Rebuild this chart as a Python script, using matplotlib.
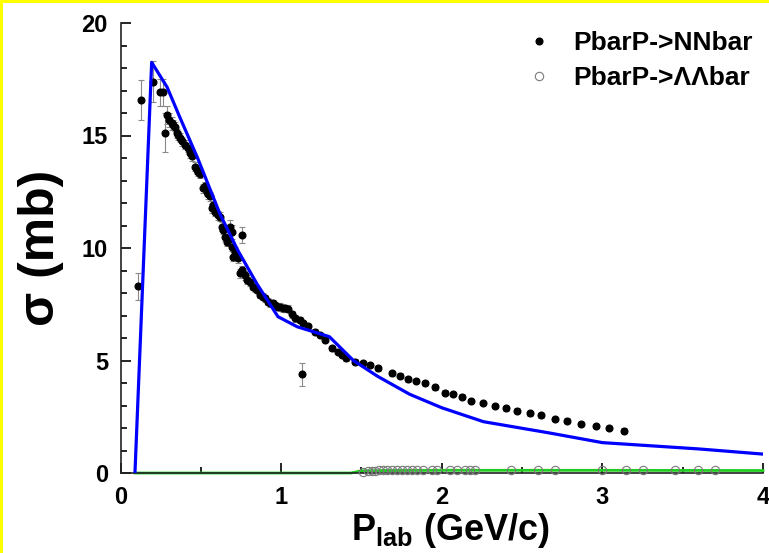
import numpy as np
import matplotlib
matplotlib.use('Agg')
import matplotlib.pyplot as plt
from matplotlib.patches import Rectangle
from matplotlib.ticker import MultipleLocator

plt.rcParams['font.family'] = ['Liberation Sans', 'DejaVu Sans']
plt.rcParams['font.weight'] = 'bold'
plt.rcParams['mathtext.fontset'] = 'custom'
plt.rcParams['mathtext.bf'] = 'Liberation Sans:bold'
plt.rcParams['mathtext.rm'] = 'Liberation Sans:bold'

# pbar p -> n nbar data (P_lab GeV/c, sigma mb, error)
nn_p = [0.110, 0.126, 0.204, 0.246, 0.266, 0.277, 0.287, 0.304, 0.319, 0.328,
        0.339, 0.350, 0.360, 0.370, 0.381, 0.401, 0.422, 0.433, 0.443, 0.464,
        0.474, 0.484, 0.495, 0.515, 0.525, 0.536, 0.546, 0.557, 0.567, 0.578,
        0.588, 0.604, 0.619, 0.630, 0.640, 0.650, 0.660, 0.671, 0.681, 0.692,
        0.692, 0.702, 0.713, 0.733, 0.744, 0.754, 0.754, 0.775, 0.790, 0.806,
        0.826, 0.839, 0.848, 0.868, 0.889, 0.899, 0.920, 0.930, 0.951, 0.961,
        0.982, 0.993, 1.013, 1.024, 1.044, 1.065, 1.086, 1.117, 1.128, 1.138,
        1.169, 1.210, 1.241, 1.272, 1.314, 1.355, 1.380, 1.407, 1.460, 1.510,
        1.553, 1.604, 1.690, 1.740, 1.790, 1.840, 1.895, 1.957, 2.019, 2.071,
        2.123, 2.185, 2.258, 2.330, 2.400, 2.470, 2.548, 2.621, 2.704, 2.777,
        2.870, 2.959, 3.042, 3.133]
nn_sig = [8.30, 16.58, 17.40, 16.92, 16.92, 15.12, 15.91, 15.69, 15.54, 15.47,
          15.39, 15.10, 15.02, 14.90, 14.75, 14.58, 14.45, 14.21, 14.08, 13.61,
          13.47, 13.40, 13.30, 12.65, 12.75, 12.50, 12.40, 12.30, 11.76, 11.90,
          11.61, 11.45, 11.39, 10.95, 10.80, 10.50, 10.28, 10.36, 10.95, 10.72,
          10.06, 9.61, 9.84, 9.54, 8.87, 9.02, 10.58, 8.80, 8.60, 8.50,
          8.28, 8.21, 8.13, 7.91, 7.84, 7.76, 7.61, 7.54, 7.54, 7.47,
          7.39, 7.39, 7.32, 7.32, 7.30, 7.05, 6.87, 6.80, 4.39, 6.65,
          6.53, 6.28, 6.13, 5.91, 5.54, 5.39, 5.25, 5.10, 4.95, 4.88,
          4.80, 4.65, 4.43, 4.33, 4.16, 4.08, 3.99, 3.81, 3.57, 3.51,
          3.39, 3.21, 3.12, 2.98, 2.87, 2.77, 2.65, 2.56, 2.39, 2.33,
          2.18, 2.09, 1.99, 1.88]
nn_err = [0.60, 0.87, 0.90, 0.60, 0.60, 0.87, 0.40, 0.30, 0.30, 0.20,
          0.20, 0.20, 0.20, 0.20, 0.20, 0.20, 0.20, 0.20, 0.20, 0.20,
          0.20, 0.20, 0.20, 0.20, 0.20, 0.20, 0.20, 0.20, 0.20, 0.20,
          0.20, 0.20, 0.20, 0.20, 0.20, 0.20, 0.20, 0.20, 0.30, 0.30,
          0.20, 0.20, 0.20, 0.20, 0.20, 0.20, 0.35, 0.20, 0.20, 0.20,
          0.15, 0.15, 0.15, 0.15, 0.15, 0.15, 0.15, 0.15, 0.15, 0.15,
          0.15, 0.15, 0.15, 0.15, 0.15, 0.15, 0.15, 0.15, 0.52, 0.10,
          0.10, 0.10, 0.10, 0.10, 0.10, 0.10, 0.10, 0.10, 0.10, 0.10,
          0.10, 0.10, 0.10, 0.10, 0.10, 0.10, 0.10, 0.10, 0.10, 0.10,
          0.10, 0.10, 0.10, 0.10, 0.10, 0.10, 0.10, 0.10, 0.10, 0.10,
          0.10, 0.10, 0.10, 0.10]

# pbar p -> lambda lambdabar data
ll_p = [1.511, 1.542, 1.563, 1.584, 1.610, 1.635, 1.660, 1.688, 1.719, 1.750,
        1.781, 1.812, 1.843, 1.884, 1.937, 1.968, 2.050, 2.092, 2.144, 2.175,
        2.206, 2.434, 2.600, 2.704, 3.000, 3.150, 3.253, 3.450, 3.595, 3.700]
ll_sig = [0.06, 0.08, 0.10, 0.11, 0.12, 0.13, 0.13, 0.14, 0.14, 0.15,
          0.15, 0.15, 0.15, 0.15, 0.15, 0.15, 0.15, 0.15, 0.15, 0.15,
          0.15, 0.15, 0.15, 0.15, 0.15, 0.15, 0.15, 0.15, 0.15, 0.15]
ll_err = [0.03] * len(ll_p)

# model curves
th_nn_p = [0.09, 0.194, 0.29, 0.37, 0.48, 0.62, 0.73, 0.85, 0.98, 1.10,
           1.30, 1.45, 1.60, 1.80, 2.00, 2.26, 2.67, 3.00, 3.60, 4.00]
th_nn_sig = [0.0, 18.25, 17.15, 15.8, 14.0, 11.5, 9.9, 8.4, 6.95, 6.5,
             6.06, 5.0, 4.3, 3.5, 2.9, 2.28, 1.78, 1.35, 1.07, 0.84]
th_ll_p = [0.09, 1.435, 1.50, 2.00, 3.00, 4.00]
th_ll_sig = [0.0, 0.0, 0.10, 0.12, 0.12, 0.11]

fig = plt.figure(figsize=(7.69, 5.53), dpi=100)
ax = fig.add_axes([120.5 / 769, 80 / 553, 642.5 / 769, 450 / 553])

# error bars first, markers on top
ax.errorbar(nn_p, nn_sig, yerr=nn_err, fmt='none', ecolor='#8a8a8a',
            elinewidth=0.8, capsize=2.5, capthick=0.8, zorder=2)
ax.errorbar(ll_p, ll_sig, yerr=ll_err, fmt='none', ecolor='#8a8a8a',
            elinewidth=0.8, capsize=2, capthick=0.8, zorder=2)
ax.plot(nn_p, nn_sig, 'o', color='black', ms=4.8, ls='none',
        label='PbarP->NNbar', zorder=3)
ax.plot(ll_p, ll_sig, 'o', mfc='none', mec='#7a7a7a', mew=0.8, ms=6, ls='none',
        label='PbarP->\u039b\u039bbar', zorder=3, clip_on=False)

ax.plot(th_nn_p, th_nn_sig, color='#0000ff', lw=2.3, zorder=4)
# lambda curve sits under the axis line until threshold
ax.plot(th_ll_p, th_ll_sig, color='#22cc22', lw=2.0, zorder=2.2, clip_on=False)

ax.set_xlim(0, 4)
ax.set_ylim(0, 20)
ax.xaxis.set_major_locator(MultipleLocator(1))
ax.xaxis.set_minor_locator(MultipleLocator(0.5))
ax.yaxis.set_major_locator(MultipleLocator(5))
ax.yaxis.set_minor_locator(MultipleLocator(1))
ax.tick_params(which='both', direction='in', width=1.2, labelsize=17)
ax.tick_params(which='major', length=7)
ax.tick_params(which='minor', length=4)
ax.tick_params(axis='x', pad=9)
ax.tick_params(axis='y', pad=9)
ax.spines['top'].set_visible(False)
ax.spines['right'].set_visible(False)
for s in ['left', 'bottom']:
    ax.spines[s].set_linewidth(1.2)
    ax.spines[s].set_color('#222222')
    ax.spines[s].set_zorder(2.5)

ax.set_xlabel(r'$\mathbf{P_{lab}}$ (GeV/c)', fontsize=26, fontweight='bold')
ax.xaxis.set_label_coords(0.514, -0.085)
ax.set_ylabel('\u03c3 (mb)', fontsize=36, fontweight='bold')
ax.yaxis.set_label_coords(-0.088, 0.5)

ax.legend(loc='upper right', bbox_to_anchor=(1.0, 1.005), frameon=False,
          fontsize=19, handletextpad=0.7, labelspacing=0.42, handlelength=1.2,
          borderaxespad=0.0)

# yellow frame edges of the original slide
fig.add_artist(Rectangle((0, 0), 3 / 769, 1, transform=fig.transFigure,
                         color='yellow', lw=0))
fig.add_artist(Rectangle((0, 1 - 3 / 553), 1, 3 / 553, transform=fig.transFigure,
                         color='yellow', lw=0))

fig.savefig('out.png', dpi=100)
